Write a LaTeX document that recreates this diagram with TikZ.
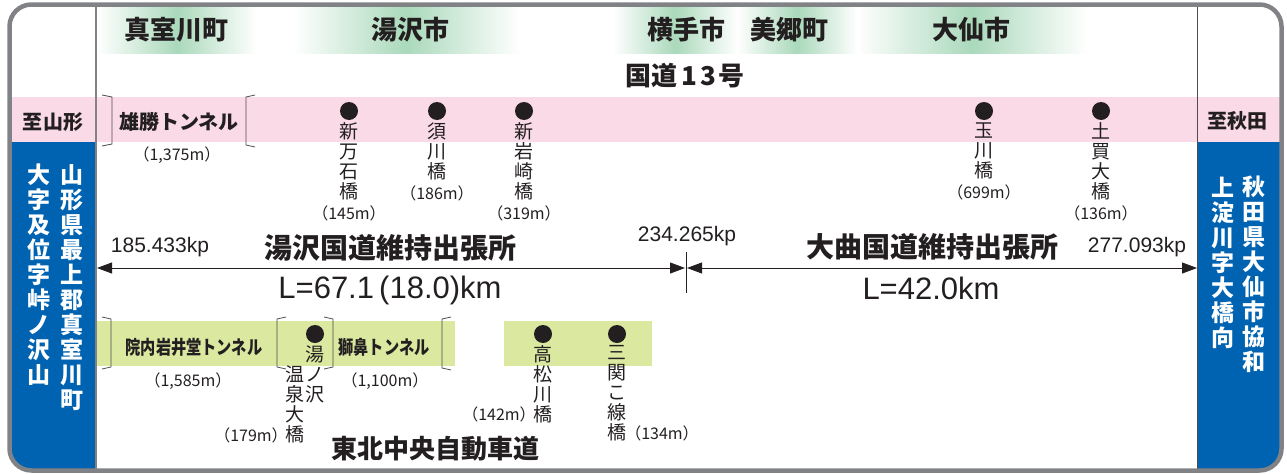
\documentclass[tikz,border=0pt]{standalone}
\usepackage{fontspec}
\setmainfont{Liberation Sans}
\newfontfamily\jp{Noto Sans CJK JP}
\newfontfamily\jpnarrow{Noto Sans CJK JP}[FakeStretch=0.8]
\usetikzlibrary{arrows.meta,positioning}

\definecolor{framegray}{RGB}{128,130,133}
\definecolor{ink}{RGB}{35,31,32}
\definecolor{roadpink}{RGB}{249,218,230}
\definecolor{citygreen}{RGB}{170,217,187}
\definecolor{expgreen}{RGB}{218,232,160}
\definecolor{sideblue}{RGB}{0,99,177}

\newcommand{\fsz}[1]{\fontsize{#1}{#1}\selectfont}
\newcommand{\blen}[1]{{\fontsize{16}{20}\selectfont （#1m）}}

\tikzset{
  cityband/.style={left color=white, right color=white, middle color=citygreen},
  city/.style={font=\jp\bfseries\fsz{26}, text=ink, inner sep=0pt},
  goal/.style={font=\jp\bfseries\fsz{20}, text=ink, inner sep=0pt},
  tunnel/.style={font=\jp\bfseries\fsz{20}, text=ink, inner sep=0pt},
  tunnelb/.style={font=\jpnarrow\bfseries\fsz{19}, text=ink, inner sep=0pt},
  tlen/.style={font=\jp\fsz{16}, text=ink, inner sep=0pt},
  blenlabel/.style={font=\jp\fsz{16}, text=ink, inner sep=0pt},
  pier/.style={circle, fill=ink, minimum size=18pt, inner sep=0pt},
  tate/.style={font=\jp\fontsize{19}{20}\selectfont, text=ink, align=center, inner sep=0pt, anchor=north},
  side/.style={font=\jp\bfseries\fontsize{23}{25}\selectfont, text=white, align=center, inner sep=0pt, anchor=north},
  office/.style={font=\jp\bfseries\fsz{28}, text=ink, inner sep=0pt},
  kp/.style={font=\fsz{21}, text=ink, inner sep=0pt},
  spanlen/.style={font=\fsz{31}, text=ink, inner sep=0pt},
  kpline/.style={draw=ink, line width=0.9pt, {Triangle[length=15pt,width=11pt]}-{Triangle[length=15pt,width=11pt]}},
  brk/.style={draw=ink!80, line width=0.8pt},
}

\begin{document}
\begin{tikzpicture}[x=1pt,y=-1pt]
    \useasboundingbox (0,0) rectangle (1287,474);
    % backgrounds
    \begin{scope}
        \clip[rounded corners=22pt] (9.5,4.5) rectangle (1281.5,470.5);
        \fill[cityband] (97,7) rectangle (257,53);
        \fill[cityband] (293,7) rectangle (520,53);
        \fill[cityband] (613,7) rectangle (737,53);
        \fill[cityband] (737,7) rectangle (857,53);
        \fill[cityband] (857,7) rectangle (1087,53);
        \fill[roadpink] (9,97) rectangle (1282,142);
        \fill[sideblue] (9,142) rectangle (96,471);
        \fill[sideblue] (1197,142) rectangle (1282,471);
        \fill[expgreen] (97,321) rectangle (455,366);
        \fill[expgreen] (504,321) rectangle (652,366);
    \end{scope}
    \draw[framegray, line width=2pt] (96,4) -- (96,470);
    \draw[ink!80, line width=0.8pt] (1197,4) -- (1197,470);
    \draw[framegray, line width=4.5pt, rounded corners=22pt] (9.5,4.5) rectangle (1281.5,470.5);

    % cities
    \node[city] (mamurogawa) at (176,30) {真室川町};
    \node[city] (yuzawa) at (410,30) {湯沢市};
    \node[city] (yokote) at (686,30) {横手市};
    \node[city] (misato) at (789,30) {美郷町};
    \node[city] (daisen) at (971,30) {大仙市};
    \node[city] (route13) at (685,76) {国道\hspace{4pt}1\hspace{3pt}3\hspace{3pt}号};

    % national road 13
    \node[goal] (toYamagata) at (53,122) {至山形};
    \node[goal] (toAkita) at (1237,121) {至秋田};
    \draw[brk] (102,95) -- (112,97) -- (112,144) -- (102,146);
    \draw[brk] (255,95) -- (246,97) -- (246,145) -- (255,147);
    \node[tunnel] (ogachiT) at (179,122) {雄勝トンネル};
    \node[tlen] (ogachiL) at (177,155) {（1,375m）};
    \node[pier] (shinmangoku) at (349,111) {};
    \node[tate, below=2pt of shinmangoku] (shinmangokuL) {新\\万\\石\\橋\\[1pt]\blen{145}};
    \node[pier] (sukawa) at (437,111) {};
    \node[tate, below=2pt of sukawa] (sukawaL) {須\\川\\橋\\[1pt]\blen{186}};
    \node[pier] (shiniwasaki) at (524,111) {};
    \node[tate, below=2pt of shiniwasaki] (shiniwasakiL) {新\\岩\\崎\\橋\\[1pt]\blen{319}};
    \node[pier] (tamagawa) at (984,111) {};
    \node[tate, below=2pt of tamagawa] (tamagawaL) {玉\\川\\橋\\[1pt]\blen{699}};
    \node[pier] (tsuchikai) at (1101,111) {};
    \node[tate, below=2pt of tsuchikai] (tsuchikaiL) {土\\買\\大\\橋\\[1pt]\blen{136}};

    % offices
    \node[kp] (kpStart) at (160,247) {185.433kp};
    \node[office] (yuzawaOffice) at (390,248) {湯沢国道維持出張所};
    \node[kp] (kpMid) at (687,236) {234.265kp};
    \node[office] (omagariOffice) at (932,247) {大曲国道維持出張所};
    \node[kp] (kpEnd) at (1137,247) {277.093kp};
    \coordinate (west) at (97,268);
    \coordinate (midL) at (685,268);
    \coordinate (midR) at (687,268);
    \coordinate (east) at (1197,268);
    \coordinate (midTop) at (686,252);
    \coordinate (midBot) at (686,293);
    \draw[kpline] (west) -- (midL);
    \draw[kpline] (midR) -- (east);
    \draw[ink, line width=0.9pt] (midTop) -- (midBot);
    \node[spanlen] (yuzawaLen) at (390,290) {L=67.1\,(18.0)km};
    \node[spanlen] (omagariLen) at (931,288) {L=42.0km};

    % tohoku chuo expressway
    \draw[brk] (102,317) -- (111,319) -- (111,367) -- (102,369);
    \draw[brk] (286,317) -- (277,319) -- (277,367) -- (286,369);
    \draw[brk] (324,317) -- (333,319) -- (333,367) -- (324,369);
    \draw[brk] (451,317) -- (442,319) -- (442,368) -- (451,370);
    \node[tunnelb] (innaiT) at (194,347) {院内岩井堂トンネル};
    \node[tlen] (innaiL) at (188,381) {（1,585m）};
    \node[pier] (yunosawa) at (315,334) {};
    \node[tate, below=2pt of yunosawa] (yunosawaL) {湯\\ノ\\沢};
    \node[tate] (yunosawaL2) at (295,366) {温\\泉\\大\\橋};
    \node[blenlabel] (yunosawaLen) at (251,435) {（179m）};
    \node[tunnelb] (shibanaT) at (384,347) {獅鼻トンネル};
    \node[tlen] (shibanaL) at (385,381) {（1,100m）};
    \node[pier] (takamatsu) at (543,334) {};
    \node[tate, below=2pt of takamatsu] (takamatsuL) {高\\松\\川\\橋};
    \node[blenlabel] (takamatsuLen) at (499,414) {（142m）};
    \node[pier] (sanzeki) at (617,334) {};
    \node[tate, below=2pt of sanzeki] (sanzekiL) {三\\関\\こ\\線\\橋};
    \node[blenlabel] (sanzekiLen) at (662,433) {（134m）};
    \node[city] (tohokuExp) at (435,449) {東北中央自動車道};

    % ends
    \node[side] (yamagataAddr1) at (72,164) {山\\形\\県\\最\\上\\郡\\真\\室\\川\\町};
    \node[side] (yamagataAddr2) at (39,164) {大\\字\\及\\位\\字\\峠\\ノ\\沢\\山};
    \node[side] (akitaAddr1) at (1254,176) {秋\\田\\県\\大\\仙\\市\\協\\和};
    \node[side] (akitaAddr2) at (1223,177) {上\\淀\\川\\字\\大\\橋\\向};
\end{tikzpicture}
\end{document}
